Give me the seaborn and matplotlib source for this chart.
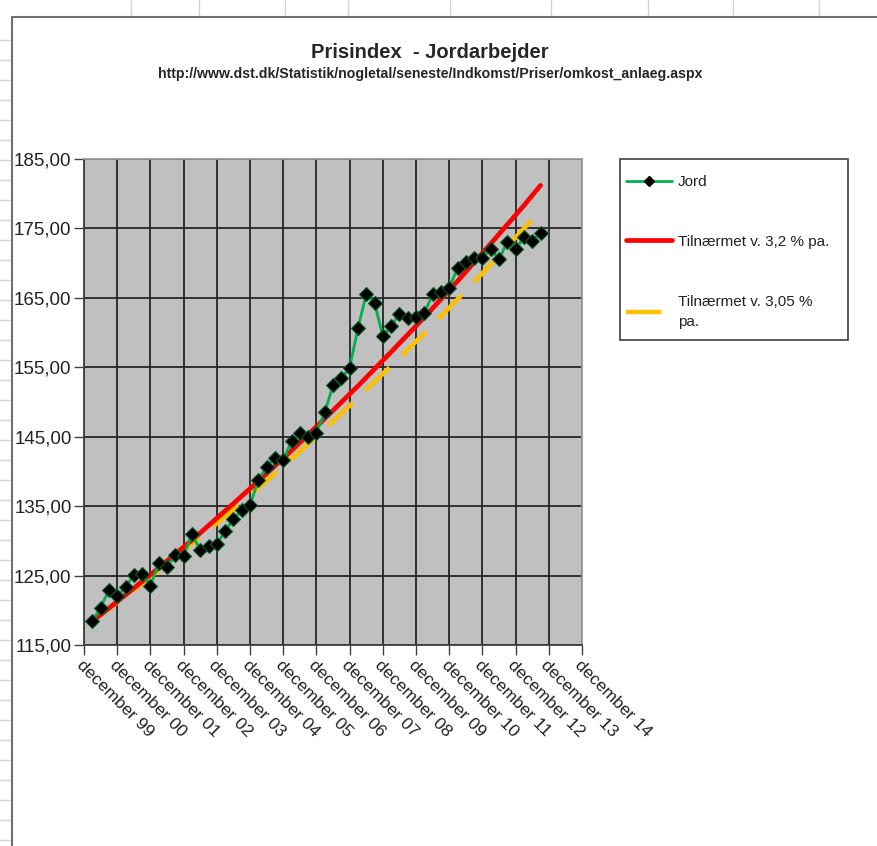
import seaborn as sns
import pandas as pd
import matplotlib.pyplot as plt
import numpy as np
from matplotlib.lines import Line2D
from matplotlib.patches import Rectangle

# quarterly index values, Q1 2000 .. Q3 2013
jord = [118.4, 120.4, 122.9, 122.0, 123.3, 125.1, 125.2, 123.5, 126.8, 126.2,
        128.0, 127.8, 131.0, 128.7, 129.2, 129.5, 131.4, 133.1, 134.4, 135.1,
        138.8, 140.7, 141.9, 141.6, 144.4, 145.5, 144.9, 145.6, 148.5, 152.4,
        153.4, 154.9, 160.6, 165.5, 164.3, 159.5, 160.9, 162.7, 162.1, 162.3,
        162.8, 165.5, 165.9, 166.4, 169.3, 170.1, 170.7, 170.8, 172.0, 170.6,
        173.0, 172.0, 173.7, 173.2, 174.4]

# trend lines read once a year (march), plus the last quarter
trend_pos = [1, 5, 9, 13, 17, 21, 25, 29, 33, 37, 41, 45, 49, 53, 55]
trend_32 = [118.4, 122.2, 126.1, 130.1, 134.3, 138.6, 143.0, 147.6, 152.3,
            157.2, 162.2, 167.4, 172.8, 178.3, 181.2]
trend_305 = [118.4, 122.0, 125.7, 129.6, 133.5, 137.6, 141.8, 146.1, 150.6,
             155.2, 159.9, 164.8, 169.8, 175.0, 177.6]

years = ["99", "00", "01", "02", "03", "04", "05", "06", "07", "08",
         "09", "10", "11", "12", "13", "14"]
tick_labels = ["december " + y for y in years]
yticks = [115, 125, 135, 145, 155, 165, 175, 185]

df = pd.DataFrame({"x": np.arange(1, len(jord) + 1) / 4, "Jord": jord})
tr = pd.DataFrame({"x": np.array(trend_pos) / 4, "r": trend_32, "o": trend_305})

sns.set_style("white")
plt.rcParams['font.family'] = ['Liberation Sans', 'DejaVu Sans']

fig = plt.figure(figsize=(8.77, 8.46), dpi=100)
ax = fig.add_axes([84 / 877, 1 - 645 / 846, 498 / 877, 486 / 846])
ax.set_facecolor("#c0c0c0")

sns.lineplot(data=tr, x="x", y="o", ax=ax, color="#ffc000", linewidth=3.2, zorder=2)
ax.lines[-1].set_dashes((7.5, 4))
ax.lines[-1].set_solid_capstyle("butt")
sns.lineplot(data=tr, x="x", y="r", ax=ax, color="#ff0000", linewidth=3.4, zorder=3)
sns.lineplot(data=df, x="x", y="Jord", ax=ax, color="#00b050", linewidth=2,
             marker="D", markersize=7.5, markerfacecolor="black",
             markeredgecolor="#0a5a2a", markeredgewidth=0.8, zorder=4)

ax.set_xlim(0, 15)
ax.set_ylim(115, 185)
ax.set_xticks(range(16))
ax.set_xticklabels(tick_labels, rotation=-45, ha="left", va="top",
                   rotation_mode="anchor", fontsize=12.5, color="#222222")
ax.set_yticks(yticks)
ax.set_yticklabels([f"{v:.2f}".replace(".", ",") for v in yticks], fontsize=13.5,
                   color="#222222")
ax.tick_params(axis="both", direction="out", length=7, width=1, color="#404040",
               left=True, bottom=True, pad=2)
ax.grid(True, color="#252525", linewidth=1.3)
ax.set_axisbelow(True)
ax.set_xlabel("")
ax.set_ylabel("")
for side in ["top", "right"]:
    ax.spines[side].set_color("#9a9a9a")
    ax.spines[side].set_linewidth(1.3)
for side in ["left", "bottom"]:
    ax.spines[side].set_color("#404040")
    ax.spines[side].set_linewidth(1.3)

# legend box drawn separately so its size matches the original
fig.add_artist(Rectangle((620 / 877, 1 - 340 / 846), 228 / 877, 181 / 846,
                         transform=fig.transFigure, facecolor="white",
                         edgecolor="#404040", linewidth=1.2, zorder=5))
handles = [
    Line2D([], [], color="#00b050", linewidth=2, marker="D", markersize=5,
           markerfacecolor="black", markeredgecolor="black"),
    Line2D([], [], color="#ff0000", linewidth=3.4),
    Line2D([], [], color="#ffc000", linewidth=3.2, dashes=(8, 5)),
]
labels = ["Jord", "Tilnærmet v. 3,2 % pa.", "Tilnærmet v. 3,05 %\npa."]
leg = fig.legend(handles, labels, loc="upper left",
                 bbox_to_anchor=(626 / 877, 1 - 175 / 846), fontsize=11,
                 frameon=False, handlelength=3.0, handletextpad=0.4,
                 labelspacing=3.0, borderpad=0, borderaxespad=0)
leg.set_zorder(6)
for t in leg.get_texts():
    t.set_color("#222222")
    t.set_linespacing(1.55)

fig.text(430 / 877, 1 - 52 / 846, "Prisindex  - Jordarbejder", ha="center",
         va="center", fontsize=14.5, fontweight="bold")
fig.text(430 / 877, 1 - 74 / 846,
         "http://www.dst.dk/Statistik/nogletal/seneste/Indkomst/Priser/omkost_anlaeg.aspx",
         ha="center", va="center", fontsize=10.2, fontweight="bold")

# spreadsheet behind the chart
for xv in [131, 199, 285, 348, 450, 551, 648, 733, 819]:
    fig.add_artist(Line2D([xv / 877, xv / 877], [1, 1 - 16 / 846],
                          color="#d4d4d4", linewidth=1))
for yv in range(40, 846, 20):
    fig.add_artist(Line2D([0, 11 / 877], [1 - yv / 846, 1 - yv / 846],
                          color="#d4d4d4", linewidth=1))
fig.add_artist(Line2D([12 / 877, 12 / 877], [0, 1 - 17 / 846], color="#707070", linewidth=1.5))
fig.add_artist(Line2D([12 / 877, 1], [1 - 17 / 846, 1 - 17 / 846], color="#707070", linewidth=1.5))

fig.savefig("out.png", dpi=100)
